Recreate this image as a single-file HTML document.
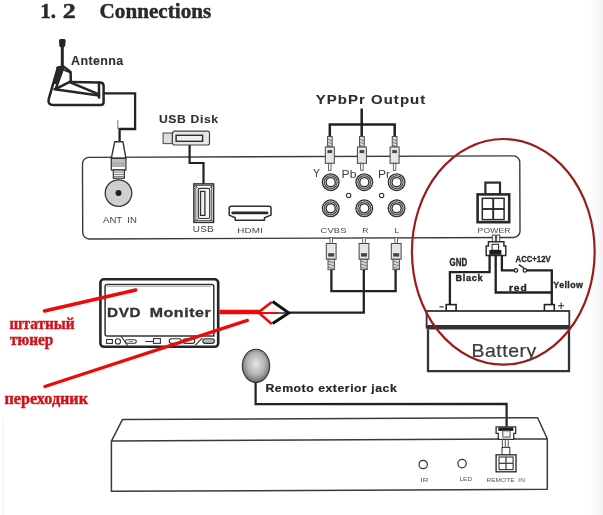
<!DOCTYPE html>
<html><head><meta charset="utf-8">
<style>
html,body{margin:0;padding:0;background:#fff;}
body{width:603px;height:515px;overflow:hidden;position:relative;}
svg{position:absolute;left:0;top:0;display:block;filter:blur(0.3px);}
.sans{font-family:"Liberation Sans",sans-serif;}
.serif{font-family:"Liberation Serif",serif;}
</style></head><body>
<svg width="603" height="515" viewBox="0 0 603 515">
<defs>
  <radialGradient id="ball" cx="0.5" cy="0.45" r="0.56">
    <stop offset="0" stop-color="#e6e6e6"/>
    <stop offset="0.6" stop-color="#b0b0b0"/>
    <stop offset="1" stop-color="#666666"/>
  </radialGradient>
  <linearGradient id="edge" x1="0" x2="1" y1="0" y2="0">
    <stop offset="0" stop-color="#fff" stop-opacity="0"/>
    <stop offset="1" stop-color="#f0f1f5"/>
  </linearGradient>
<g id="rca">
  <rect x="-2.4" y="0" width="4.8" height="10.5" fill="#d8d8d8" stroke="#444" stroke-width="0.9"/>
  <path d="M-2.4,2.5 L2.4,4.5 M-2.4,5.5 L2.4,7.5 M-2.4,8.5 L2.4,10.5" stroke="#666" stroke-width="0.8"/>
  <rect x="-4.5" y="10.5" width="9" height="16.3" fill="#e6e6e6" stroke="#444" stroke-width="1"/>
  <rect x="-2.3" y="13.6" width="4.6" height="3" fill="#444"/>
  <rect x="-1.25" y="26.8" width="2.5" height="7" fill="#fff" stroke="#444" stroke-width="0.8"/>
</g>
<g id="jack">
  <circle r="8.95" fill="#2e2e2e"/>
  <circle r="7.3" fill="none" stroke="#e8e8e8" stroke-width="0.8"/>
  <circle r="5.6" fill="none" stroke="#e8e8e8" stroke-width="0.8"/>
  <circle r="3.85" fill="#fff"/>
</g>
<g id="rcab">
  <rect x="-1.25" y="0" width="2.5" height="6" fill="#fff" stroke="#444" stroke-width="0.8"/>
  <rect x="-4.9" y="6" width="9.8" height="15.7" fill="#e6e6e6" stroke="#444" stroke-width="1"/>
  <rect x="-3" y="15.7" width="6" height="3.4" fill="#444"/>
  <rect x="-3.2" y="21.7" width="6.4" height="10.5" fill="#d8d8d8" stroke="#444" stroke-width="0.9"/>
  <path d="M-3.2,23.5 L3.2,25.5 M-3.2,26.5 L3.2,28.5 M-3.2,29.5 L3.2,31.5" stroke="#666" stroke-width="0.8"/>
</g>
</defs>
<rect x="0" y="0" width="603" height="515" fill="#fff"/>
<rect x="586" y="0" width="17" height="515" fill="url(#edge)"/>
<line x1="3.2" y1="418" x2="3.2" y2="515" stroke="#eeeeee" stroke-width="1"/>

<!-- Title -->
<text class="serif" x="40.2" y="17.8" font-size="21" font-weight="bold" fill="#2a2a2a" stroke="#2a2a2a" stroke-width="0.5">1.</text><text class="serif" x="62.8" y="17.8" font-size="21" font-weight="bold" fill="#2a2a2a" stroke="#2a2a2a" stroke-width="0.5" textLength="13" lengthAdjust="spacingAndGlyphs">2</text>
<text class="serif" x="99.6" y="17.8" font-size="21.1" font-weight="bold" fill="#2a2a2a" stroke="#2a2a2a" stroke-width="0.45" textLength="111.6" lengthAdjust="spacingAndGlyphs">Connections</text>

<!-- Main box -->
<rect x="82.6" y="156.6" width="437.3" height="81.6" rx="6.5" fill="none" stroke="#3a3a3a" stroke-width="1.4" transform="rotate(-0.2 301 197)"/>

<!-- Antenna -->
<path d="M59,40.5 Q59,39 60.5,39 L64.2,39 Q65.7,39 65.7,40.5 L65.2,45.5 Q65,47.2 63.5,47.2 L61,47.2 Q59.5,47.2 59.3,45.5 Z" fill="#262626"/>
<rect x="60.8" y="46" width="3" height="21.5" fill="#262626"/>
<path d="M57,68 L63.4,66.5 L62.6,70.5 L56.5,84 L53.5,84 Z" fill="#2a2a2a"/>
<g stroke="#262626" stroke-width="2.5" fill="none" stroke-linejoin="round" stroke-linecap="round">
  <path d="M57.5,67.8 L63.4,66.5 L70.6,72 L70.8,81.8"/>
  <path d="M57.8,67.8 L48.7,99.2 Q47.6,104.9 53,104.9 L101,104.9 Q103.6,104.9 103.6,102 L103.6,86 Q103.6,82.6 100.5,82.4 L70.8,82.1"/>
  <path d="M99,82.4 L99,97.5"/>
  <path d="M70.8,82.6 L99,94.3"/>
  <path d="M70.8,81.3 L56.4,88.6"/>
  <path d="M54.5,89.2 L99,95.6"/>
  <path d="M62.8,68.8 L55.8,88.6"/>
  <path d="M63.6,70 L70.4,72.5" stroke-width="1.6"/>
</g>

<!-- antenna cable -->
<path d="M103.6,93.4 L135.1,93.4 L135.1,129 L119.6,129 L119.6,142" fill="none" stroke="#222" stroke-width="2.3"/>
<line x1="117.8" y1="120" x2="117.8" y2="129" stroke="#555" stroke-width="0.8"/>
<!-- F connector -->
<path d="M114.7,141.8 L123,141.8 L125.9,158.3 L111.3,158.3 Z" fill="#fff" stroke="#333" stroke-width="1.4" stroke-linejoin="round"/>
<rect x="111.3" y="158.3" width="14.6" height="11.7" fill="#fff" stroke="#333" stroke-width="1.3"/>
<rect x="112" y="161.2" width="13.2" height="5.8" fill="#b0b0b0"/>
<line x1="111.3" y1="160" x2="125.9" y2="160" stroke="#555" stroke-width="0.8"/>
<rect x="113.3" y="170" width="11.1" height="8.2" fill="#fff" stroke="#333" stroke-width="1.2"/>
<path d="M113.3,172.1 L124.4,172.1 M113.3,174.4 L124.4,174.4 M113.3,176.4 L124.4,176.4" stroke="#555" stroke-width="0.8"/>
<!-- ANT IN jack -->
<circle cx="118.5" cy="193.1" r="13.3" fill="#cfcfcf" stroke="#333" stroke-width="1.3"/>
<circle cx="118.5" cy="193.1" r="3" fill="#222"/>

<!-- USB Disk -->
<rect x="163.1" y="133" width="9.3" height="10.6" fill="#dedede" stroke="#555" stroke-width="1.1"/>
<path d="M172.4,133 L174,131.1 L207.5,131.1 Q209.5,131.1 209.5,133.1 L209.5,143 Q209.5,145 207.5,145 L174,145 L172.4,143.6 Z" fill="#e6e6e6" stroke="#444" stroke-width="1.2" stroke-linejoin="round"/>
<rect x="176.1" y="135.3" width="26.5" height="6" fill="#f0f0f0" stroke="#2e2e2e" stroke-width="1.4"/>
<path d="M189.6,145 L189.6,163 L203.5,163 L203.5,184" fill="none" stroke="#222" stroke-width="2.2"/>
<!-- USB port -->
<rect x="193.9" y="183.9" width="19.7" height="38.5" fill="#fff" stroke="#2e2e2e" stroke-width="1.5"/>
<rect x="195.9" y="185.4" width="15.8" height="35.2" fill="#fff" stroke="#444" stroke-width="0.9"/>
<rect x="198.3" y="188.3" width="11.4" height="30.2" rx="1.5" fill="#f6f6f6" stroke="#333" stroke-width="1.2"/>
<rect x="200.5" y="191.4" width="4.4" height="24" fill="#f2eeee" stroke="#2e2e2e" stroke-width="1.3"/>
<path d="M193.9,183.9 L198.3,188.3 M213.6,183.9 L209.7,188.3 M193.9,222.4 L198.3,218.5 M213.6,222.4 L209.7,218.5" stroke="#444" stroke-width="0.9"/>
<!-- HDMI -->
<path d="M231.2,206.2 L269,206.2 Q271,206.2 271,208.2 L271,215.1 L264.5,217.7 L264.5,220.3 L235.2,220.3 L235.2,217.7 L229.2,215.1 L229.2,208.2 Q229.2,206.2 231.2,206.2 Z" fill="#fff" stroke="#2e2e2e" stroke-width="1.5" stroke-linejoin="round"/>
<line x1="232.6" y1="212.9" x2="267.1" y2="212.9" stroke="#2a2a2a" stroke-width="2.6" stroke-linecap="round"/>

<!-- YPbPr Output -->
<path d="M361.7,108.6 L361.7,124.6 M329.8,137 L329.8,124.6 L394.7,124.6 L394.7,137 M361.7,124.6 L361.7,137" fill="none" stroke="#222" stroke-width="2.5"/>

<!-- top RCA plugs (pointing down) -->
<use href="#rca" x="0" y="0" transform="translate(329.8,136.5)"/>
<use href="#rca" transform="translate(361.9,136.5)"/>
<use href="#rca" transform="translate(394.6,136.5)"/>
<!-- the first defined g is at origin; hide it -->

<!-- labels -->

<!-- jacks -->
<use href="#jack" transform="translate(330.7,182.2)"/>
<use href="#jack" transform="translate(364.3,182.2)"/>
<use href="#jack" transform="translate(396.6,182.2)"/>
<use href="#jack" transform="translate(330.7,208.3)"/>
<use href="#jack" transform="translate(364.3,208.3)"/>
<use href="#jack" transform="translate(396.6,208.3)"/>
<circle cx="348.6" cy="195.4" r="2.2" fill="none" stroke="#333" stroke-width="1.1"/>
<circle cx="381.6" cy="195.4" r="2.2" fill="none" stroke="#333" stroke-width="1.1"/>

<!-- bottom RCA plugs (pointing up) -->
<use href="#rcab" transform="translate(331.2,237.5)"/>
<use href="#rcab" transform="translate(364,237.5)"/>
<use href="#rcab" transform="translate(396.2,237.5)"/>
<path d="M331.4,269.7 L331.4,291.2 L395.6,291.2 L395.6,269.7 M363.8,269.7 L363.8,312.6 L288.7,312.6" fill="none" stroke="#222" stroke-width="2.3"/>

<!-- POWER connector -->
<rect x="485.4" y="182.6" width="14.6" height="11.8" fill="#fff" stroke="#2a2a2a" stroke-width="2.2"/>
<rect x="477.6" y="194.4" width="31.6" height="27.8" fill="#fff" stroke="#2a2a2a" stroke-width="2.6"/>
<rect x="482.3" y="198.3" width="21.8" height="21.3" fill="#fff" stroke="#2a2a2a" stroke-width="1.5"/>
<line x1="493.2" y1="198.3" x2="493.2" y2="219.6" stroke="#2a2a2a" stroke-width="1.9"/>
<line x1="482.3" y1="209" x2="504.1" y2="209" stroke="#2a2a2a" stroke-width="1.9"/>

<!-- power plug and wires -->
<g stroke="#333" stroke-width="0.9" fill="#fff">
<rect x="492.3" y="235" width="3" height="6.6"/>
<rect x="496.7" y="235" width="3" height="6.6"/>
</g>
<path d="M488.4,241.8 L503.9,241.8 L503.9,246 L505.8,246 L505.8,255.5 L486.2,255.5 L486.2,246 L488.4,246 Z" fill="#fff" stroke="#2e2e2e" stroke-width="1.5"/>
<rect x="492.1" y="244.3" width="6.5" height="6" fill="#fff" stroke="#333" stroke-width="1.1"/>
<rect x="489.3" y="250" width="12.1" height="4.8" fill="#1e1e1e"/>
<path d="M489.6,255 L489.6,272.2 L449.9,272.2 L449.9,305" fill="none" stroke="#222" stroke-width="2.3"/>
<path d="M495.7,255 L495.7,292.5 L551.8,292.5" fill="none" stroke="#222" stroke-width="2.3"/>
<path d="M501.9,255 L501.9,270.4 L514,270.4 M526.8,270.4 L551.8,270.4 L551.8,305" fill="none" stroke="#222" stroke-width="2.3"/>
<circle cx="515.9" cy="270.4" r="1.75" fill="#fff" stroke="#222" stroke-width="1.2"/>
<circle cx="524.9" cy="270.4" r="1.75" fill="#fff" stroke="#222" stroke-width="1.2"/>
<line x1="518.9" y1="264.7" x2="524.4" y2="268.5" stroke="#222" stroke-width="1.5"/>

<!-- Battery -->
<rect x="446.2" y="304.6" width="9.9" height="6.4" fill="#fff" stroke="#222" stroke-width="1.6"/>
<rect x="544.4" y="304.6" width="9.9" height="6.4" fill="#fff" stroke="#222" stroke-width="1.6"/>
<line x1="439.5" y1="306.8" x2="443.7" y2="306.8" stroke="#333" stroke-width="1.2"/>
<path d="M558,305.8 L564.3,305.8 M561.15,302.6 L561.15,309" stroke="#333" stroke-width="1.1"/>
<rect x="426.6" y="311" width="142.7" height="16.5" fill="#fff" stroke="#333" stroke-width="1.8"/>
<rect x="426.6" y="325" width="142.7" height="4.5" fill="#333"/>
<path d="M428,329.5 L428,371.2 L569,371.2 L569,329.5" fill="none" stroke="#333" stroke-width="2.3"/>

<!-- red ellipse -->
<ellipse cx="503.3" cy="251.8" rx="91.35" ry="112.8" fill="none" stroke="#9c1c1c" stroke-width="2.2"/>

<!-- DVD Monitor -->
<rect x="100.4" y="279.3" width="117.8" height="67.5" rx="3.5" fill="#fff" stroke="#262626" stroke-width="2.6"/>
<path d="M107,284.6 L211.8,284.6 Q213.8,284.6 213.8,286.6 L213.8,336 L121,336 M105.1,286.6 Q105.1,284.6 107,284.6 M105.1,286.6 L105.1,334 Q105.1,336 107,336 L121,336" fill="none" stroke="#333" stroke-width="1.5"/>
<line x1="107" y1="286.6" x2="211" y2="286.6" stroke="#888" stroke-width="0.6"/>
<!-- buttons row -->
<g fill="none" stroke="#333" stroke-width="1.1">
  <rect x="106.5" y="339.5" width="5.9" height="3.9"/>
  <circle cx="117.9" cy="341.4" r="2.6"/>
  <path d="M121,336 L127.5,345.5"/>
  <rect x="125.4" y="339.8" width="10.9" height="3.4" rx="1.7"/>
  <line x1="145.3" y1="341.5" x2="153.5" y2="341.5"/>
  <rect x="153.5" y="338.6" width="6.9" height="4.8"/>
  <rect x="169.2" y="338.8" width="12.1" height="4.6" rx="2.3"/>
  <rect x="183.1" y="338.8" width="11.6" height="4.6" rx="2.3"/>
  <path d="M195.3,345.1 L202.2,338.1"/>
  <rect x="202.8" y="338.8" width="11.6" height="4.6" rx="2.3" fill="#bbb"/>
</g>
<line x1="129" y1="341.5" x2="133" y2="341.5" stroke="#999" stroke-width="1"/>

<!-- red annotations -->
<g stroke="#ee0a0a" fill="none" stroke-linecap="round">
  <line x1="44.5" y1="311" x2="135.7" y2="290" stroke-width="3.6"/>
  <line x1="44.9" y1="386.5" x2="247.4" y2="320.4" stroke-width="3.3"/>
  <line x1="219.5" y1="312.1" x2="258.9" y2="312.1" stroke-width="4.5" stroke-linecap="butt"/>
  <line x1="258.9" y1="313" x2="276.8" y2="313" stroke-width="2"/>
  <path d="M271.8,302 L258.4,312.4 L271.8,323.9" stroke-width="2.6" stroke-linejoin="miter" stroke-linecap="butt"/>
</g>
<line x1="276.8" y1="313" x2="289" y2="313" stroke="#333" stroke-width="1.6"/>
<path d="M272.6,301.5 L288.7,312.9 L272.6,323.4" fill="none" stroke="#111" stroke-width="3" stroke-linejoin="miter"/>

<!-- Remote sensor -->
<ellipse cx="256" cy="365.8" rx="13.7" ry="16.6" fill="url(#ball)" stroke="#333" stroke-width="1.1"/>
<path d="M255.6,382 L255.6,404.2 L506.6,403.8 L506.6,427.5" fill="none" stroke="#222" stroke-width="2.2"/>

<!-- bottom box -->
<path d="M111.4,441.1 L122.4,419.6 L537.6,417.7 L547.3,438.7 L547.3,489.3 L111.4,491.3 Z M111.4,441.1 L547.3,438.7" fill="none" stroke="#3a3a3a" stroke-width="1.5" stroke-linejoin="round"/>
<!-- remote plug -->
<path d="M496.1,426.8 L515.7,426.8 L515.7,433.4 L513.8,433.4 L513.8,439.3 L498.3,439.3 L498.3,433.4 L496.1,433.4 Z" fill="#fff" stroke="#333" stroke-width="1.3"/>
<rect x="498.3" y="427.4" width="15.1" height="3.5" fill="#1e1e1e"/>
<rect x="502.8" y="430.8" width="7.3" height="6.3" fill="#f4f4f4" stroke="#444" stroke-width="0.9"/>
<g stroke="#444" stroke-width="0.9"><line x1="502.4" y1="439.3" x2="502.4" y2="447.4"/><line x1="505.3" y1="439.3" x2="505.3" y2="447.4"/><line x1="508.2" y1="439.3" x2="508.2" y2="447.4"/></g>
<rect x="502" y="447.4" width="7.8" height="7.4" fill="#fff" stroke="#333" stroke-width="1"/>
<rect x="496.1" y="454.8" width="19.9" height="17" fill="#fff" stroke="#333" stroke-width="1.4"/>
<rect x="499" y="457" width="14.1" height="12.6" fill="#fff" stroke="#333" stroke-width="1.1"/>
<line x1="506" y1="457" x2="506" y2="469.6" stroke="#333" stroke-width="1.2"/>
<line x1="499" y1="463.3" x2="513.1" y2="463.3" stroke="#333" stroke-width="1.2"/>
<circle cx="423.2" cy="464.5" r="4.2" fill="none" stroke="#333" stroke-width="1.2"/>
<circle cx="462.1" cy="463.6" r="4.2" fill="none" stroke="#333" stroke-width="1.2"/>
<text transform="translate(71.05,64.9) scale(1.0498,1)" font-family="Liberation Sans" font-weight="bold" font-size="11.88" textLength="49.74" lengthAdjust="spacing" fill="#303030" stroke="#303030" stroke-width="0.1" xml:space="preserve">Antenna</text>
<text x="103.0" y="223.2" font-family="Liberation Sans" font-weight="normal" font-size="9.57" textLength="33.84" lengthAdjust="spacing" fill="#444" xml:space="preserve">ANT  IN</text>
<text transform="translate(158.95,122.9) scale(1.0775,1)" font-family="Liberation Sans" font-weight="bold" font-size="11.31" textLength="54.91" lengthAdjust="spacing" fill="#303030" stroke="#303030" stroke-width="0.1" xml:space="preserve">USB Disk</text>
<text transform="translate(192.85,232.2) scale(1.2013,1)" font-family="Liberation Sans" font-weight="normal" font-size="8.29" textLength="17.26" lengthAdjust="spacing" fill="#444" xml:space="preserve">USB</text>
<text transform="translate(237.25,232.5) scale(1.2136,1)" font-family="Liberation Sans" font-weight="normal" font-size="8.12" textLength="21.18" lengthAdjust="spacing" fill="#444" xml:space="preserve">HDMI</text>
<text transform="translate(315.75,104.3) scale(1.1176,1)" font-family="Liberation Sans" font-weight="bold" font-size="13.38" textLength="97.99" lengthAdjust="spacing" fill="#2e2e2e" stroke="#2e2e2e" stroke-width="0.1" xml:space="preserve">YPbPr Output</text>
<text x="312.95" y="177.3" font-family="Liberation Sans" font-weight="normal" font-size="10.58" textLength="7.04" lengthAdjust="spacingAndGlyphs" fill="#404040" xml:space="preserve">Y</text>
<text transform="translate(341.4,177.5) scale(1.1225,1)" font-family="Liberation Sans" font-weight="normal" font-size="10.87" textLength="13.56" lengthAdjust="spacing" fill="#404040" xml:space="preserve">Pb</text>
<text transform="translate(377.9,177.5) scale(1.1056,1)" font-family="Liberation Sans" font-weight="normal" font-size="10.87" textLength="10.99" lengthAdjust="spacing" fill="#404040" xml:space="preserve">Pr</text>
<text transform="translate(320.5,232.6) scale(1.2092,1)" font-family="Liberation Sans" font-weight="normal" font-size="7.71" textLength="21.45" lengthAdjust="spacing" fill="#444" xml:space="preserve">CVBS</text>
<text x="362.25" y="232.6" font-family="Liberation Sans" font-weight="normal" font-size="7.83" textLength="6.12" lengthAdjust="spacingAndGlyphs" fill="#444" xml:space="preserve">R</text>
<text x="394.55" y="232.6" font-family="Liberation Sans" font-weight="normal" font-size="7.83" textLength="4.82" lengthAdjust="spacingAndGlyphs" fill="#444" xml:space="preserve">L</text>
<text transform="translate(477.55,232.8) scale(1.1127,1)" font-family="Liberation Sans" font-weight="normal" font-size="7.71" textLength="29.67" lengthAdjust="spacing" fill="#444" xml:space="preserve">POWER</text>
<text x="449.55" y="265.7" font-family="Liberation Sans" font-weight="bold" font-size="10.43" textLength="17.61" lengthAdjust="spacingAndGlyphs" fill="#262626" stroke="#262626" stroke-width="0.35" xml:space="preserve">GND</text>
<text transform="translate(455.6,280.7) scale(1.1189,1)" font-family="Liberation Sans" font-weight="bold" font-size="8.14" textLength="24.09" lengthAdjust="spacing" fill="#262626" stroke="#262626" stroke-width="0.35" xml:space="preserve">Black</text>
<text x="515.55" y="261.9" font-family="Liberation Sans" font-weight="bold" font-size="8.71" textLength="35.12" lengthAdjust="spacingAndGlyphs" fill="#262626" stroke="#262626" stroke-width="0.3" xml:space="preserve">ACC+12V</text>
<text transform="translate(509.05,290.9) scale(1.1091,1)" font-family="Liberation Sans" font-weight="bold" font-size="9.24" textLength="15.91" lengthAdjust="spacing" fill="#262626" stroke="#262626" stroke-width="0.35" xml:space="preserve">red</text>
<text transform="translate(553.35,288.3) scale(1.0677,1)" font-family="Liberation Sans" font-weight="bold" font-size="8.28" textLength="27.69" lengthAdjust="spacing" fill="#262626" stroke="#262626" stroke-width="0.3" xml:space="preserve">Yellow</text>
<text transform="translate(471.5,357.3) scale(1.0818,1)" font-family="Liberation Sans" font-weight="normal" font-size="17.97" textLength="59.95" lengthAdjust="spacing" fill="#3c3c3c" stroke="#3c3c3c" stroke-width="0.25" xml:space="preserve">Battery</text>
<text transform="translate(107.0,316.5) scale(1.1493,1)" font-family="Liberation Sans" font-weight="bold" font-size="13.33" textLength="29.18" lengthAdjust="spacing" fill="#333" stroke="#333" stroke-width="0.3" xml:space="preserve">DVD</text>
<text transform="translate(149.7,316.5) scale(1.2585,1)" font-family="Liberation Sans" font-weight="bold" font-size="12.69" textLength="48.49" lengthAdjust="spacing" fill="#333" stroke="#333" stroke-width="0.3" xml:space="preserve">Moniter</text>
<text transform="translate(265.45,391.9) scale(1.084,1)" font-family="Liberation Sans" font-weight="bold" font-size="11.31" textLength="121.17" lengthAdjust="spacing" fill="#262626" stroke="#262626" stroke-width="0.2" xml:space="preserve">Remoto exterior jack</text>
<text transform="translate(486.5,481.7) scale(1.0784,1)" font-family="Liberation Sans" font-weight="normal" font-size="6.0" textLength="35.59" lengthAdjust="spacing" fill="#555" xml:space="preserve">REMOTE  IN</text>
<text transform="translate(420.25,481.5) scale(1.3101,1)" font-family="Liberation Sans" font-weight="normal" font-size="5.94" textLength="6.24" lengthAdjust="spacing" fill="#555" xml:space="preserve">IR</text>
<text transform="translate(459.5,480.5) scale(1.0887,1)" font-family="Liberation Sans" font-weight="normal" font-size="5.8" textLength="11.48" lengthAdjust="spacing" fill="#555" xml:space="preserve">LED</text>
<text x="9.5" y="329.2" font-family="Liberation Serif" font-weight="bold" font-size="16.92" textLength="65.18" lengthAdjust="spacingAndGlyphs" fill="#d0141c" stroke="#d0141c" stroke-width="0.45" xml:space="preserve">штатный</text>
<text x="10.05" y="345.4" font-family="Liberation Serif" font-weight="bold" font-size="15.79" textLength="43.34" lengthAdjust="spacingAndGlyphs" fill="#d0141c" stroke="#d0141c" stroke-width="0.45" xml:space="preserve">тюнер</text>
<text x="4.5" y="403.6" font-family="Liberation Serif" font-weight="bold" font-size="15.87" textLength="83.49" lengthAdjust="spacingAndGlyphs" fill="#d0141c" stroke="#d0141c" stroke-width="0.45" xml:space="preserve">переходник</text>
</svg>
</body></html>
